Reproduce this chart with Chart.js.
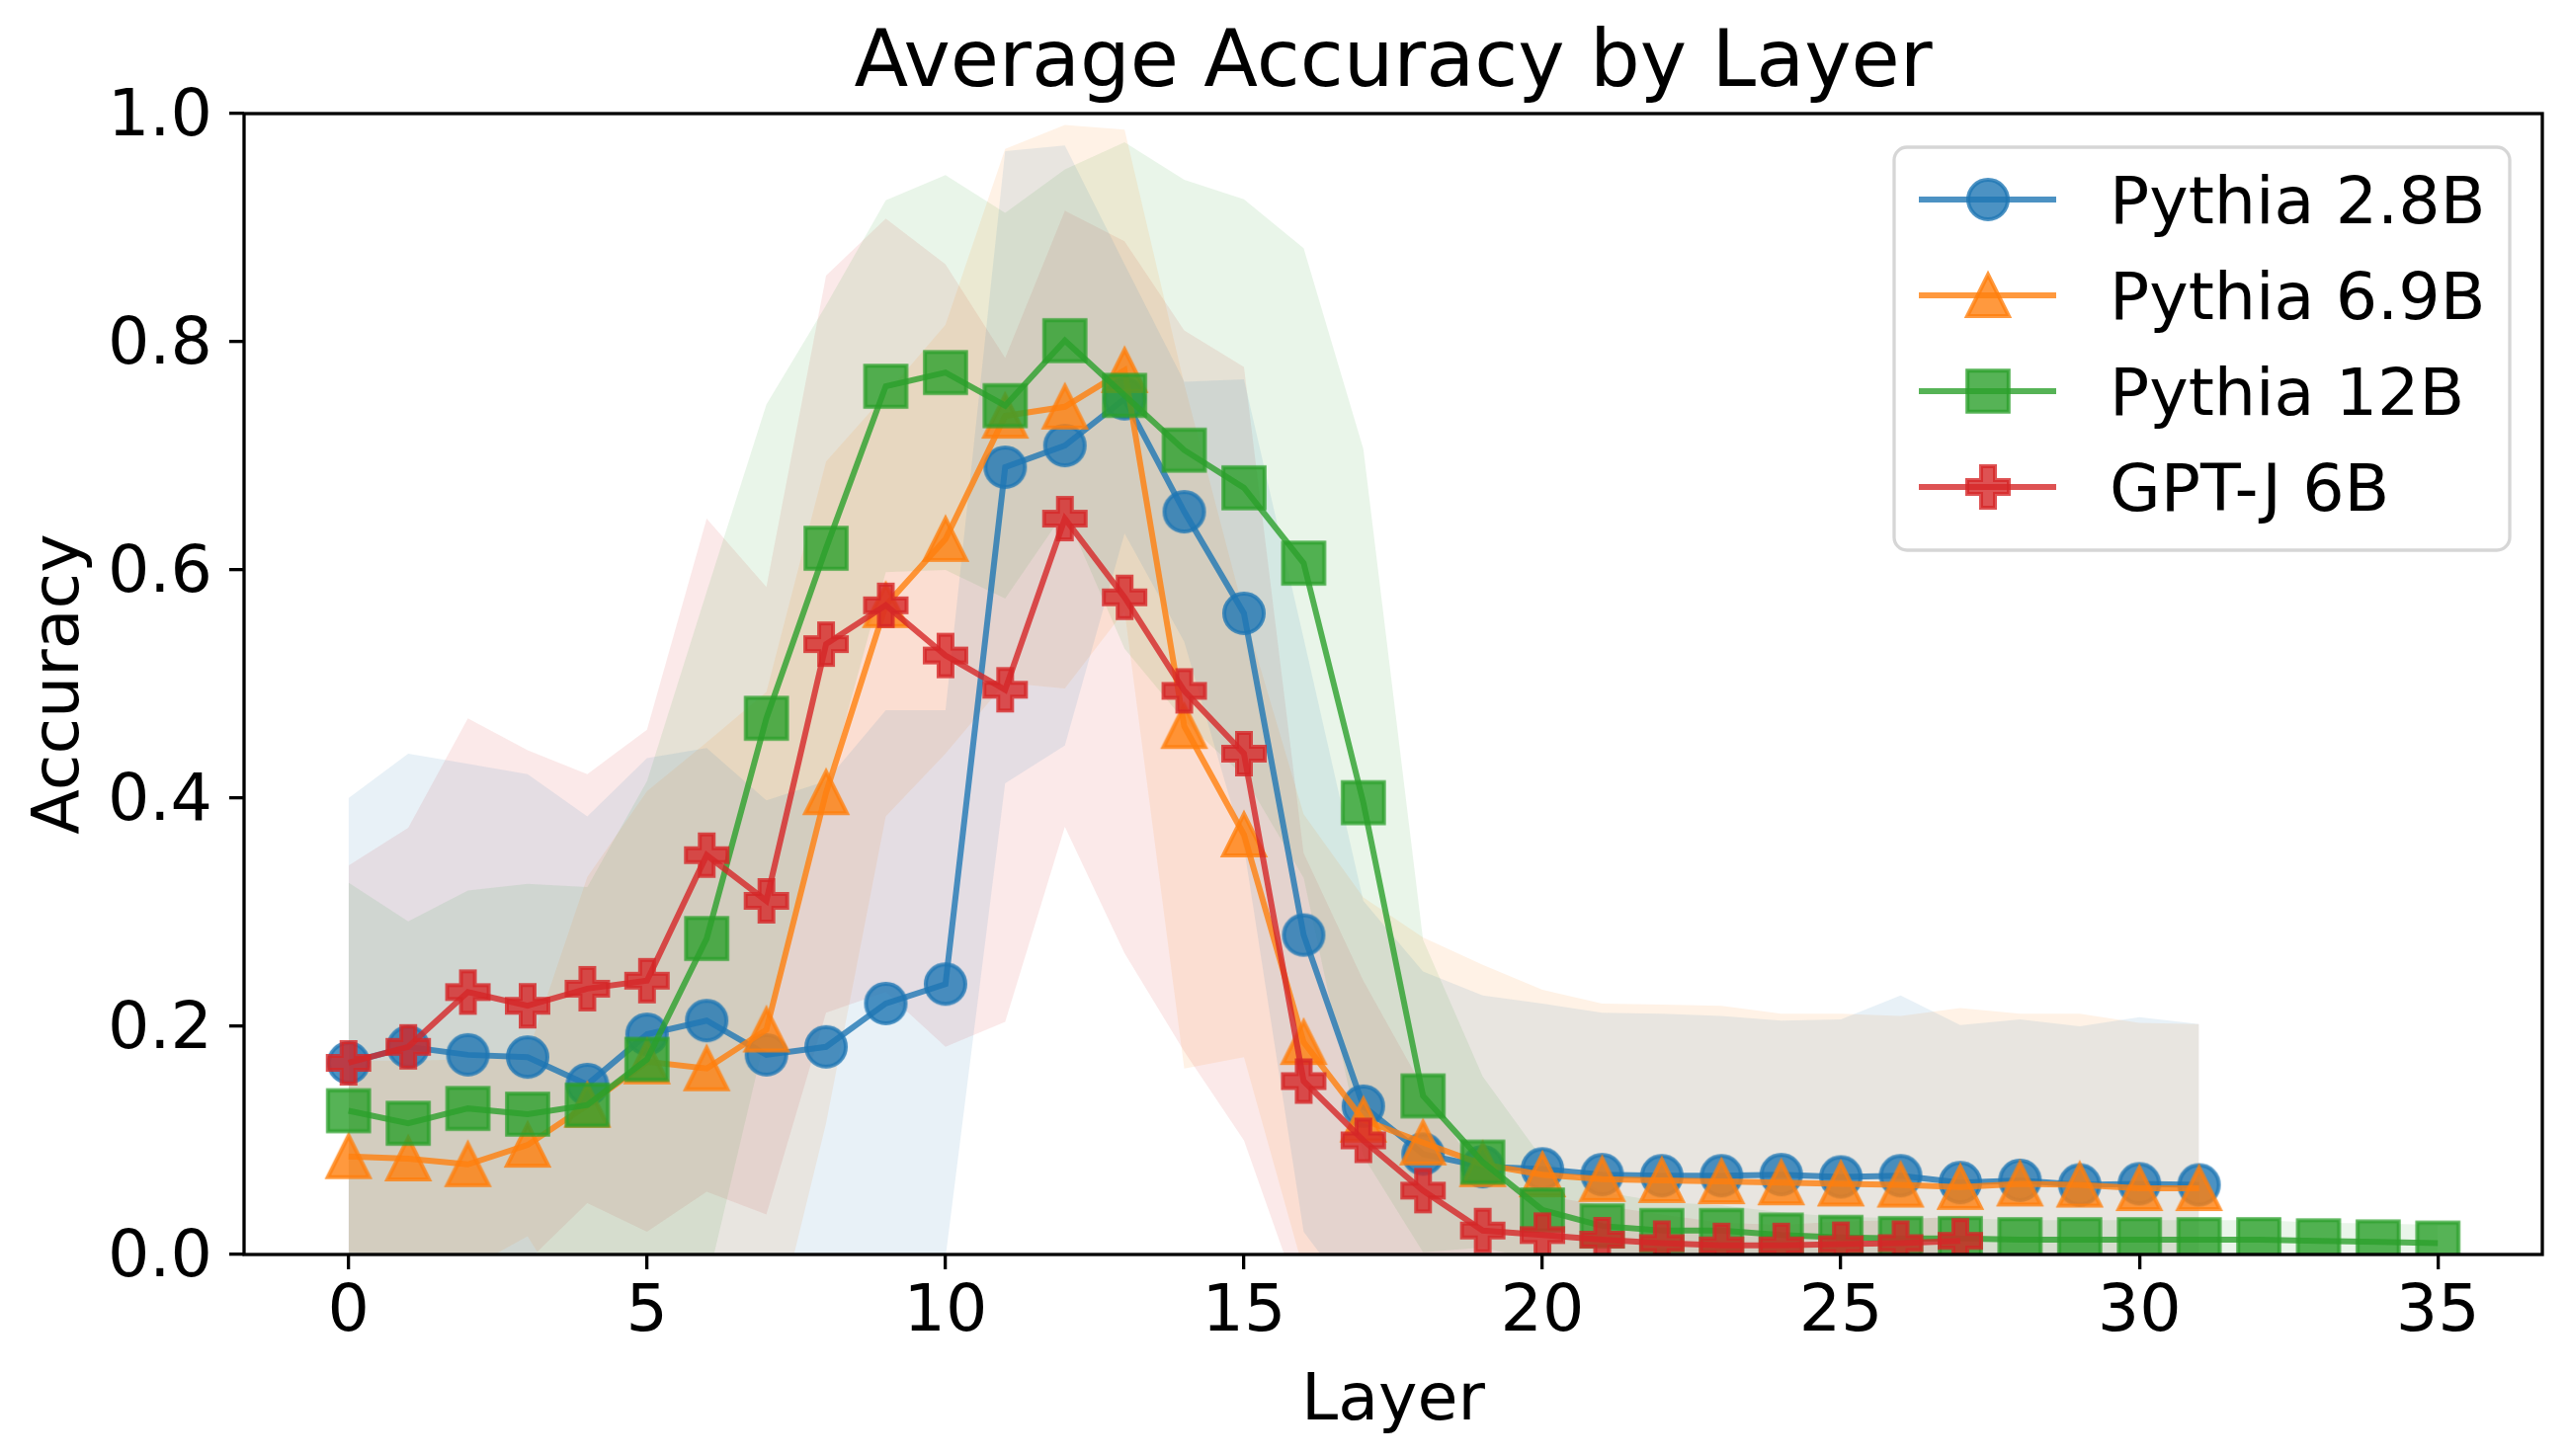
<!DOCTYPE html>
<html>
<head>
<meta charset="utf-8">
<script src="https://cdn.jsdelivr.net/npm/chart.js@4.4.1/dist/chart.umd.min.js"></script>
<style>
  html, body { margin: 0; padding: 0; background: #fff; }
  #wrap { width: 2600px; height: 1474px; }
</style>
</head>
<body>
<div id="wrap"><canvas id="accChart" width="2600" height="1474"></canvas></div>
<script>
// Values
const modelNames = ['Pythia 2.8B', 'Pythia 6.9B', 'Pythia 12B', 'GPT-J 6B'];

const layers28 = [0,1,2,3,4,5,6,7,8,9,10,11,12,13,14,15,16,17,18,19,20,21,22,23,24,25,26,27];
const layers32 = [0,1,2,3,4,5,6,7,8,9,10,11,12,13,14,15,16,17,18,19,20,21,22,23,24,25,26,27,28,29,30,31];
const layers36 = [0,1,2,3,4,5,6,7,8,9,10,11,12,13,14,15,16,17,18,19,20,21,22,23,24,25,26,27,28,29,30,31,32,33,34,35];

// mean accuracy per layer
const pythia28Mean = [0.168,0.182,0.175,0.173,0.149,0.193,0.205,0.175,0.182,0.22,0.237,0.69,0.709,0.75,0.651,0.562,
  0.28,0.13,0.088,0.077,0.075,0.07,0.069,0.069,0.07,0.068,0.069,0.063,0.065,0.061,0.062,0.061];
const pythia69Mean = [0.086,0.084,0.079,0.096,0.131,0.169,0.163,0.197,0.405,0.569,0.627,0.735,0.743,0.775,0.463,0.368,
  0.186,0.118,0.098,0.079,0.07,0.066,0.065,0.064,0.063,0.062,0.061,0.059,0.062,0.061,0.058,0.058];
const pythia12Mean = [0.126,0.115,0.128,0.123,0.131,0.171,0.277,0.47,0.619,0.761,0.773,0.744,0.801,0.753,0.705,0.672,
  0.606,0.396,0.139,0.081,0.039,0.025,0.021,0.021,0.017,0.015,0.014,0.014,0.013,0.013,0.013,0.013,0.013,0.012,0.011,0.01];
const gptj6Mean = [0.168,0.182,0.23,0.218,0.233,0.24,0.35,0.31,0.535,0.569,0.525,0.495,0.645,0.576,0.494,0.439,
  0.152,0.1,0.056,0.021,0.017,0.013,0.01,0.008,0.008,0.009,0.01,0.012];

// spread (std) per layer, shown as the shaded band
const pythia28Std = [0.232,0.257,0.255,0.248,0.235,0.242,0.239,0.223,0.233,0.257,0.24,0.277,0.263,0.118,0.114,0.205,
  0.26,0.18,0.16,0.15,0.145,0.142,0.142,0.14,0.135,0.138,0.158,0.138,0.141,0.139,0.146,0.141];
const pythia69Std = [0.084,0.086,0.092,0.08,0.2,0.237,0.286,0.296,0.29,0.185,0.188,0.234,0.247,0.211,0.3,0.195,
  0.2,0.195,0.18,0.175,0.162,0.154,0.154,0.154,0.148,0.149,0.148,0.157,0.149,0.15,0.145,0.144];
const pythia12Std = [0.2,0.177,0.191,0.202,0.191,0.244,0.304,0.275,0.213,0.163,0.173,0.169,0.15,0.222,0.237,0.253,
  0.276,0.31,0.137,0.075,0.045,0.03,0.025,0.022,0.02,0.018,0.018,0.018,0.017,0.017,0.017,0.017,0.017,0.016,0.016,0.016];
const gptj6Std = [0.173,0.192,0.24,0.224,0.188,0.22,0.295,0.275,0.323,0.339,0.343,0.291,0.27,0.312,0.316,0.339,
  0.2,0.14,0.09,0.045,0.035,0.03,0.025,0.02,0.018,0.02,0.02,0.022];

const xTickValues = [0, 5, 10, 15, 20, 25, 30, 35];
const yTickValues = [0, 0.2, 0.4, 0.6, 0.8, 1.0];

// tab10 colours
const seriesRgb = ['31,119,180', '255,127,14', '44,160,44', '214,39,40'];
const seriesShape = ['circle', 'triangle', 'square', 'plus'];

const FONT = 'DejaVu Sans';
const TICK_SIZE = 66.7;

Chart.defaults.font.family = FONT;
Chart.defaults.color = '#000';

// Draw a matplotlib-like marker into a small canvas, used as pointStyle
function makeMarker(shape, rgb) {
  const size = 58;
  const c = document.createElement('canvas');
  c.width = size;
  c.height = size;
  const g = c.getContext('2d');
  g.translate(size / 2, size / 2);
  g.beginPath();
  if (shape === 'circle') {
    g.arc(0, 0, 20, 0, Math.PI * 2);
  } else if (shape === 'triangle') {
    g.moveTo(0, -21); g.lineTo(21, 21); g.lineTo(-21, 21); g.closePath();
  } else if (shape === 'square') {
    g.rect(-20.8, -20.8, 41.6, 41.6);
  } else {
    const a = 21, b = 7;
    g.moveTo(-b, -a); g.lineTo(b, -a); g.lineTo(b, -b); g.lineTo(a, -b);
    g.lineTo(a, b); g.lineTo(b, b); g.lineTo(b, a); g.lineTo(-b, a);
    g.lineTo(-b, b); g.lineTo(-a, b); g.lineTo(-a, -b); g.lineTo(-b, -b);
    g.closePath();
  }
  g.fillStyle = 'rgba(' + rgb + ',0.8)';
  g.fill();
  g.lineWidth = 4;
  g.strokeStyle = 'rgba(' + rgb + ',0.8)';
  g.stroke();
  return c;
}

const markers = seriesShape.map((s, i) => makeMarker(s, seriesRgb[i]));

const seriesLayers = [layers32, layers32, layers36, layers28];
const seriesMean = [pythia28Mean, pythia69Mean, pythia12Mean, gptj6Mean];
const seriesStd = [pythia28Std, pythia69Std, pythia12Std, gptj6Std];

function toPoints(xs, ys) {
  return xs.map((x, i) => ({x: x, y: ys[i]}));
}

// band edges: mean +/- std
function bandEdge(i, sign) {
  const xs = seriesLayers[i];
  return xs.map((x, k) => ({x: x, y: seriesMean[i][k] + sign * seriesStd[i][k]}));
}

const datasets = [];

// shaded bands first (upper fills down to the following lower edge)
modelNames.forEach((name, i) => {
  datasets.push({
    label: name + ' band',
    data: bandEdge(i, 1),
    fill: '+1',
    backgroundColor: 'rgba(' + seriesRgb[i] + ',0.1)',
    borderWidth: 0,
    pointRadius: 0,
    order: 10
  });
  datasets.push({
    label: name + ' band low',
    data: bandEdge(i, -1),
    fill: false,
    borderWidth: 0,
    pointRadius: 0,
    order: 10
  });
});

// the lines with markers
modelNames.forEach((name, i) => {
  datasets.push({
    label: name,
    data: toPoints(seriesLayers[i], seriesMean[i]),
    fill: false,
    borderColor: 'rgba(' + seriesRgb[i] + ',0.8)',
    backgroundColor: 'rgba(' + seriesRgb[i] + ',0.8)',
    borderWidth: 6,
    pointStyle: markers[i],
    pointRadius: 21,
    tension: 0,
    order: 4 - i
  });
});

// four black spines on top of the data
const spines = {
  id: 'spines',
  afterDatasetsDraw(chart) {
    const a = chart.chartArea;
    const ctx = chart.ctx;
    ctx.save();
    ctx.strokeStyle = '#000';
    ctx.lineWidth = 3.3;
    ctx.strokeRect(a.left, a.top, a.right - a.left, a.bottom - a.top);
    ctx.restore();
  }
};

// legend box in the upper right corner, line + marker handles
const cornerLegend = {
  id: 'cornerLegend',
  afterDraw(chart) {
    const a = chart.chartArea;
    const ctx = chart.ctx;
    const w = 623, h = 408;
    const x0 = a.right - 33 - w;
    const y0 = a.top + 34;
    ctx.save();
    ctx.beginPath();
    ctx.roundRect(x0, y0, w, h, 13);
    ctx.fillStyle = 'rgba(255,255,255,0.8)';
    ctx.fill();
    ctx.lineWidth = 3.3;
    ctx.strokeStyle = 'rgba(204,204,204,0.8)';
    ctx.stroke();

    ctx.font = TICK_SIZE + 'px "' + FONT + '"';
    ctx.textAlign = 'left';
    ctx.textBaseline = 'alphabetic';
    modelNames.forEach((name, i) => {
      const cy = y0 + 53 + i * 97;
      ctx.beginPath();
      ctx.moveTo(x0 + 25, cy);
      ctx.lineTo(x0 + 164, cy);
      ctx.lineWidth = 6;
      ctx.strokeStyle = 'rgba(' + seriesRgb[i] + ',0.8)';
      ctx.stroke();
      const m = markers[i];
      ctx.drawImage(m, x0 + 95 - m.width / 2, cy - m.height / 2);
      ctx.fillStyle = '#000';
      ctx.fillText(name, x0 + 218, cy + 24);
    });
    ctx.restore();
  }
};

const tickGrid = {
  display: true,
  drawOnChartArea: false,
  drawTicks: true,
  tickLength: 15,
  tickWidth: 3.3,
  tickColor: '#000',
  color: '#000',
  lineWidth: 3.3
};

new Chart(document.getElementById('accChart'), {
  type: 'line',
  data: { datasets: datasets },
  options: {
    responsive: false,
    devicePixelRatio: 1,
    animation: false,
    layout: { padding: { left: 0, right: 16, top: 0, bottom: 0 } },
    plugins: {
      legend: { display: false },
      tooltip: { enabled: false },
      title: {
        display: true,
        fullSize: false,
        text: 'Average Accuracy by Layer',
        color: '#000',
        font: { family: FONT, size: 80, weight: 'normal' },
        padding: { top: 18, bottom: 1 }
      }
    },
    scales: {
      x: {
        type: 'linear',
        min: -1.75,
        max: 36.75,
        afterBuildTicks: (s) => { s.ticks = xTickValues.map(v => ({ value: v })); },
        afterFit: (s) => { s.height = 204; },
        ticks: {
          font: { size: TICK_SIZE },
          color: '#000',
          padding: 5,
          autoSkip: false,
          maxRotation: 0,
          callback: (v) => String(v)
        },
        grid: tickGrid,
        border: { display: false },
        title: {
          display: true,
          text: 'Layer',
          color: '#000',
          font: { size: TICK_SIZE },
          padding: { top: 0, bottom: 14 }
        }
      },
      y: {
        type: 'linear',
        min: 0,
        max: 1,
        afterBuildTicks: (s) => { s.ticks = yTickValues.map(v => ({ value: v })); },
        afterFit: (s) => { s.width = 247; },
        ticks: {
          font: { size: TICK_SIZE },
          color: '#000',
          padding: 17,
          labelOffset: 5,
          callback: (v) => v.toFixed(1)
        },
        grid: tickGrid,
        border: { display: false },
        title: {
          display: true,
          text: 'Accuracy',
          color: '#000',
          font: { size: TICK_SIZE },
          padding: { top: 22, bottom: 0 }
        }
      }
    }
  },
  plugins: [spines, cornerLegend]
});
</script>
</body>
</html>
